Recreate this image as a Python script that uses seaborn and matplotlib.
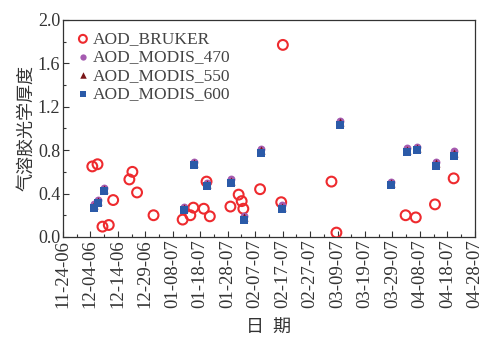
import matplotlib
matplotlib.use("Agg")
import matplotlib.pyplot as plt
from matplotlib.ticker import MultipleLocator
import seaborn as sns
import pandas as pd

# Day offsets along the axis (one major tick every 10 units)
bruker_day = [10.7, 12.6, 14.4, 16.7, 18.3, 24.2, 25.3, 27.0, 33.0, 43.6,
              46.4, 47.5, 51.3, 52.3, 53.5, 61.0, 64.0, 65.1, 65.7, 71.8,
              79.5, 80.1, 97.8, 99.6, 124.8, 128.5, 135.5, 142.3]
bruker_aod = [0.65, 0.67, 0.095, 0.11, 0.34, 0.53, 0.60, 0.41, 0.20, 0.16,
              0.20, 0.27, 0.26, 0.51, 0.19, 0.28, 0.39, 0.33, 0.26, 0.44,
              0.32, 1.77, 0.51, 0.04, 0.20, 0.18, 0.30, 0.54]

modis_day = [11.2, 12.9, 15.1, 44.0, 47.6, 52.5, 61.1, 65.9, 72.0, 79.8,
             100.8, 119.4, 125.2, 128.8, 135.7, 142.6]
modis_470 = [0.30, 0.34, 0.45, 0.28, 0.69, 0.50, 0.53, 0.19, 0.81, 0.29,
             1.07, 0.51, 0.82, 0.83, 0.69, 0.79]
modis_550 = [0.29, 0.33, 0.44, 0.27, 0.68, 0.49, 0.52, 0.18, 0.80, 0.28,
             1.06, 0.50, 0.80, 0.82, 0.68, 0.77]
modis_600 = [0.27, 0.31, 0.42, 0.25, 0.66, 0.47, 0.50, 0.155, 0.77, 0.26,
             1.03, 0.48, 0.78, 0.80, 0.655, 0.75]

tick_days = list(range(0, 151, 10))
tick_labels = ["11-24-06", "12-04-06", "12-14-06", "12-29-06", "01-08-07",
               "01-18-07", "01-28-07", "02-07-07", "02-17-07", "02-27-07",
               "03-09-07", "03-19-07", "03-29-07", "04-08-07", "04-18-07",
               "04-28-07"]

sns.set_style("ticks")
plt.rcParams["font.family"] = ["Liberation Serif", "Noto Sans CJK SC"]

fig = plt.figure(figsize=(4.84, 3.38), dpi=100)
ax = fig.add_axes([0.130, 0.299, 0.851, 0.642])

df_b = pd.DataFrame({"day": bruker_day, "aod": bruker_aod})
df_m = pd.DataFrame({"day": modis_day, "m470": modis_470,
                     "m550": modis_550, "m600": modis_600})

sns.scatterplot(data=df_b, x="day", y="aod", ax=ax, marker="o", s=50,
                facecolor="none", edgecolor="#ee2a2e", linewidth=1.5,
                label="AOD_BRUKER", zorder=3)
sns.scatterplot(data=df_m, x="day", y="m470", ax=ax, marker="o", s=32,
                color="#a55bb0", edgecolor="#a55bb0", linewidth=0,
                label="AOD_MODIS_470", zorder=4)
sns.scatterplot(data=df_m, x="day", y="m550", ax=ax, marker="^", s=34,
                color="#7b1618", edgecolor="#7b1618", linewidth=0,
                label="AOD_MODIS_550", zorder=5)
sns.scatterplot(data=df_m, x="day", y="m600", ax=ax, marker="s", s=36,
                color="#2b5aa8", edgecolor="#2b5aa8", linewidth=0,
                label="AOD_MODIS_600", zorder=6)

ax.set_xlim(0, 150)
ax.set_ylim(0, 2.0)
ax.set_xticks(tick_days)
ax.set_xticklabels(tick_labels, rotation=90, fontsize=13.5)
ax.xaxis.set_minor_locator(MultipleLocator(5))
ax.set_yticks([0.0, 0.4, 0.8, 1.2, 1.6, 2.0])
ax.set_yticklabels(["0.0", "0.4", "0.8", "1.2", "1.6", "2.0"], fontsize=13)
ax.yaxis.set_minor_locator(MultipleLocator(0.2))
ax.tick_params(which="both", direction="in", top=False, right=False,
               colors="#333333", width=0.8)
ax.tick_params(which="major", length=4, pad=2)
ax.tick_params(which="minor", length=2.5)
for sp in ax.spines.values():
    sp.set_linewidth(0.9)
    sp.set_color("#333333")

ax.set_xlabel("日  期", fontsize=13, color="#333333", labelpad=8)
ax.set_ylabel("气溶胶光学厚度", fontsize=13, color="#333333", labelpad=2)

leg = ax.legend(loc="upper left", bbox_to_anchor=(0.0, 1.0), frameon=False,
                fontsize=12.5, handletextpad=0.05, labelspacing=0.12,
                handlelength=1.0, borderaxespad=0.25, markerscale=0.8)
for t in leg.get_texts():
    t.set_color("#444444")

fig.savefig("out.png", dpi=100)
